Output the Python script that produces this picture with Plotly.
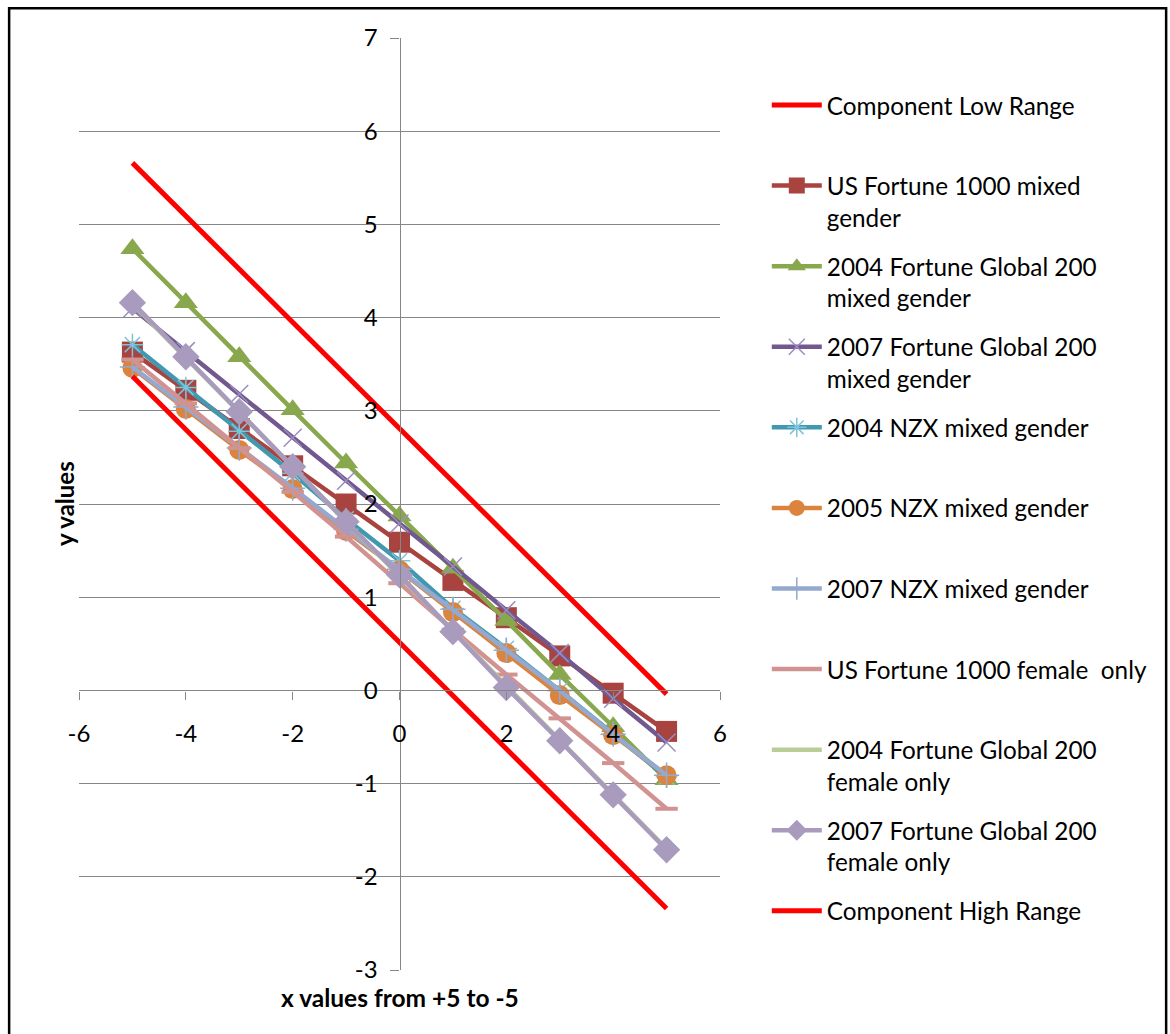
import plotly.graph_objects as go

# x positions shared by the plotted series
x_vals = [-5, -4, -3, -2, -1, 0, 1, 2, 3, 4, 5]

# Range boundaries (straight lines between their end points)
range_x = [-5, 5]
low_range = [5.66, -0.04]
high_range = [3.37, -2.34]

# Series values
us_f1000_mixed = [3.63, 3.22, 2.81, 2.41, 2.00, 1.59, 1.18, 0.78, 0.37, -0.03, -0.44]
fg200_2004_mixed = [4.74, 4.16, 3.58, 3.01, 2.44, 1.87, 1.31, 0.75, 0.17, -0.39, -0.96]
fg200_2007_mixed = [4.10, 3.64, 3.18, 2.71, 2.25, 1.79, 1.33, 0.86, 0.40, -0.09, -0.56]
nzx_2004_mixed = [3.71, 3.25, 2.78, 2.33, 1.84, 1.39, 0.88, 0.45, 0.00, -0.47, -0.93]
nzx_2005_mixed = [3.46, 3.02, 2.58, 2.16, 1.71, 1.29, 0.84, 0.40, -0.05, -0.48, -0.91]
nzx_2007_mixed = [3.47, 3.04, 2.60, 2.17, 1.73, 1.30, 0.87, 0.43, 0.00, -0.47, -0.91]
us_f1000_female = [3.55, 3.08, 2.60, 2.13, 1.65, 1.15, 0.65, 0.17, -0.30, -0.78, -1.27]
fg200_2004_female = [4.15, 3.57, 2.98, 2.40, 1.81, 1.23, 0.64, 0.05, -0.53, -1.12, -1.70]
fg200_2007_female = [4.16, 3.58, 2.99, 2.40, 1.81, 1.24, 0.63, 0.03, -0.54, -1.12, -1.71]

# Tick positions and labels (plain hyphen for negatives)
x_ticks = [-6, -4, -2, 0, 2, 4, 6]
x_tick_labels = ["-6", "-4", "-2", "0", "2", "4", "6"]
y_ticks = [-3, -2, -1, 0, 1, 2, 3, 4, 5, 6, 7]
y_tick_labels = ["-3", "-2", "-1", "0", "1", "2", "3", "4", "5", "6", "7"]

# Legend labels
names = [
    "Component Low Range",
    "US Fortune 1000 mixed<br>gender",
    "2004 Fortune Global 200<br>mixed gender",
    "2007 Fortune Global 200<br>mixed gender",
    "2004 NZX mixed gender",
    "2005 NZX mixed gender",
    "2007 NZX mixed gender",
    "US Fortune 1000 female  only",
    "2004 Fortune Global 200<br>female only",
    "2007 Fortune Global 200<br>female only",
    "Component High Range",
]

FONT = "Lato"
fig = go.Figure()


def label(text):
    # every legend entry takes two text lines so entries sit at an even pitch
    return text if "<br>" in text else text + "<br> "


def add(xs, ys, name, color, width, symbol=None, msize=0, mcolor=None, mline=0):
    mode = "lines+markers" if symbol else "lines"
    marker = dict(symbol=symbol or "circle", size=msize, color=mcolor or color,
                  line=dict(width=mline, color=mcolor or color))
    fig.add_trace(go.Scatter(
        x=xs, y=ys, name=label(name), mode=mode,
        line=dict(color=color, width=width),
        marker=marker, legendgroup=name, cliponaxis=False,
    ))


add(range_x, low_range, names[0], "#FF0000", 5)
add(x_vals, us_f1000_mixed, names[1], "#A9433F", 4.5, "square", 21, "#A9433F")
add(x_vals, fg200_2004_mixed, names[2], "#89A84E", 4.5, "triangle-up", 21, "#89A84E")
add(x_vals, fg200_2007_mixed, names[3], "#71588F", 4.5, "x-thin-open", 18, "#9C8DBE", 1.5)
add(x_vals, nzx_2004_mixed, names[4], "#4198AF", 4.5, "asterisk-open", 18, "#7CC4DB", 1.5)
add(x_vals, nzx_2005_mixed, names[5], "#DB843D", 4.5, "circle", 20, "#DB843D")
add(x_vals, nzx_2007_mixed, names[6], "#93A9CF", 4.5, "cross-thin-open", 18, "#93A9CF", 1.5)
add(x_vals, us_f1000_female, names[7], "#D19392", 4.5, "line-ew-open", 16, "#D19392", 4)
add(x_vals, fg200_2004_female, names[8], "#B9CD96", 4.5)
add(x_vals, fg200_2007_female, names[9], "#A99BBD", 4.5, "diamond", 21, "#A99BBD")
add(range_x, high_range, names[10], "#FF0000", 5)

axis_gray = "#868686"
fig.update_layout(
    width=1170, height=1034,
    margin=dict(l=79, r=450, t=38, b=64),
    paper_bgcolor="white", plot_bgcolor="white",
    font=dict(family=FONT, size=24, color="#000000"),
    xaxis=dict(
        range=[-6, 6], tickvals=x_ticks, ticktext=x_tick_labels,
        showgrid=False, zeroline=False,
        showline=True, linecolor=axis_gray, linewidth=1.2,
        ticks="outside", ticklen=8, tickcolor=axis_gray, tickwidth=1.2,
        anchor="free", position=0.3, ticklabelstandoff=14,
        tickfont=dict(family=FONT, size=24),
    ),
    yaxis=dict(
        range=[-3, 7], tickvals=y_ticks, ticktext=y_tick_labels,
        showgrid=True, gridcolor=axis_gray, gridwidth=1.2,
        zeroline=False, showline=True, linecolor=axis_gray, linewidth=1.2,
        ticks="outside", ticklen=9, tickcolor=axis_gray, tickwidth=1.2,
        anchor="free", position=0.5, ticklabelstandoff=8,
        tickfont=dict(family=FONT, size=24),
    ),
    legend=dict(
        x=1.073, y=0.952, xanchor="left", yanchor="top",
        valign="top", tracegroupgap=14.4, itemwidth=50,
        font=dict(family=FONT, size=24.3),
        bgcolor="rgba(0,0,0,0)",
    ),
    annotations=[
        dict(text="<b>x values from +5 to -5</b>", xref="paper", yref="paper",
             x=0.5, y=-0.03, xanchor="center", yanchor="middle", showarrow=False,
             font=dict(family=FONT, size=24.5)),
        dict(text="<b>y values</b>", xref="paper", yref="paper",
             x=-0.0234, y=0.5, xanchor="center", yanchor="middle", textangle=-90,
             showarrow=False, font=dict(family=FONT, size=24)),
    ],
    shapes=[
        dict(type="rect", xref="paper", yref="paper",
             x0=-0.109, x1=1.696, y0=-0.12, y1=1.032,
             line=dict(color="black", width=2.5), fillcolor="rgba(0,0,0,0)",
             layer="below"),
    ],
)

fig.write_html("out.html")
